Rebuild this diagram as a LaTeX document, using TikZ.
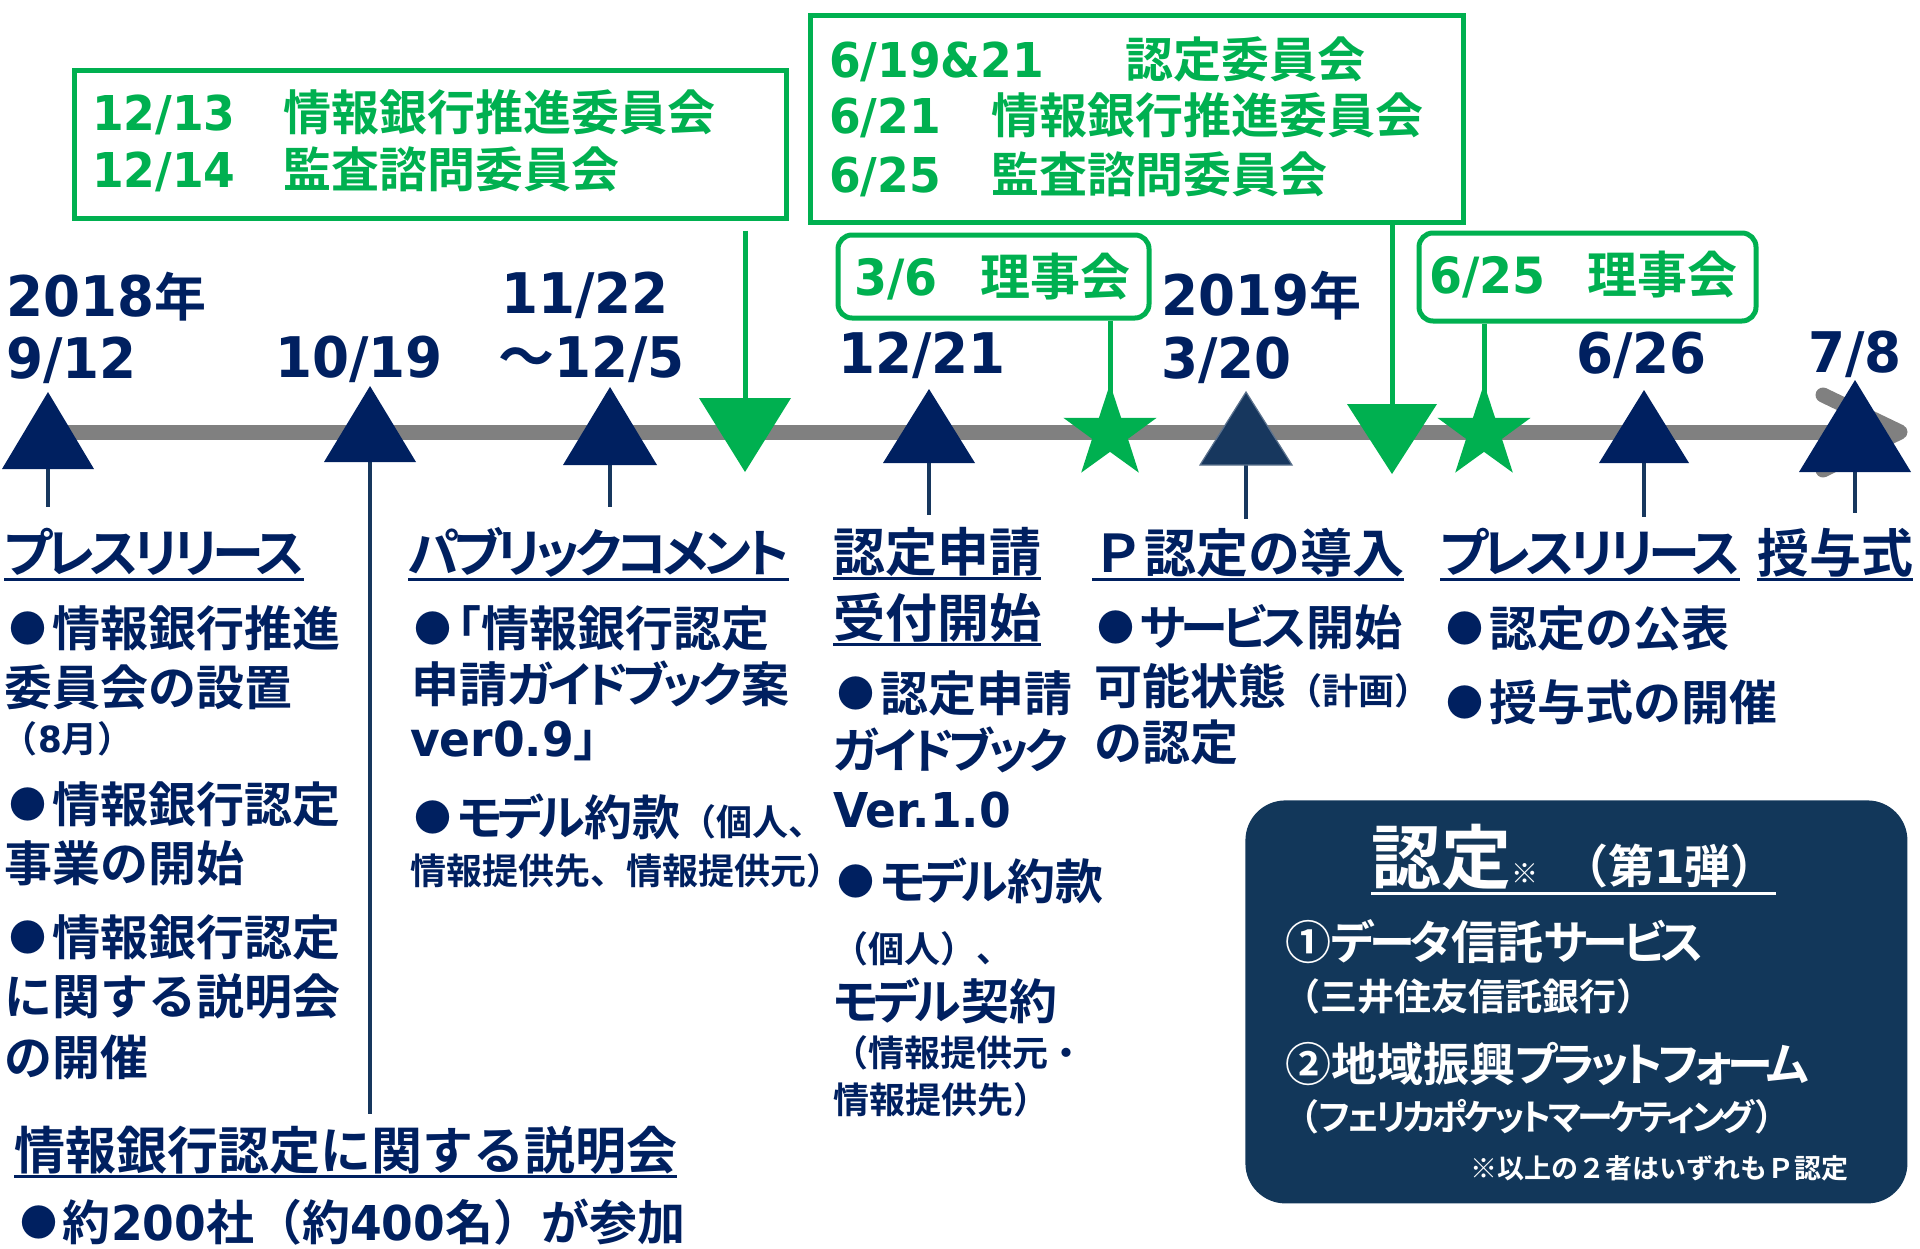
\documentclass[tikz,border=0pt]{standalone}
\usepackage{fontspec}
\setmainfont{Noto Sans CJK JP Bold}
\newfontfamily\kp{Noto Sans CJK JP Bold}[RawFeature=+palt, LetterSpace=-10]
\newfontfamily\dv{DejaVu Sans Bold}[FakeStretch=0.95]
\newcommand{\bul}{\makebox[24pt]{\raisebox{2pt}{\fontsize{18.5}{20}\selectfont ●}}}
\usetikzlibrary{shapes.geometric}
\definecolor{navy}{HTML}{002060}
\definecolor{gr}{HTML}{00B050}
\definecolor{slate}{HTML}{12375A}
\definecolor{slatetri}{HTML}{17375E}
\definecolor{barg}{HTML}{808080}
\tikzset{
 tx/.style={anchor=base west, inner sep=0pt, outer sep=0pt, text=navy},
 dt/.style={tx, font=\fontsize{28}{32}\selectfont},
 hd/.style={tx, font=\fontsize{26}{30}\selectfont},
 bl/.style={tx, font=\fontsize{24}{28}\selectfont},
 sm/.style={tx, font=\fontsize{18}{21}\selectfont},
 gtx/.style={tx, text=gr, font=\fontsize{24}{28}\selectfont},
 gtxb/.style={tx, text=gr, font=\fontsize{25}{28}\selectfont},
 gbox/.style={draw=gr, line width=2.5pt, inner sep=0pt, anchor=north west},
 gline/.style={draw=gr, line width=2.5pt},
 ulst/.style={draw=navy, line width=1.5pt},
 stemst/.style={draw=slatetri, line width=2pt},
 tlbar/.style={draw=barg, line width=7.5pt},
 gstar/.style={star, star points=5, star point ratio=2.6, fill=gr, inner sep=0pt, minimum size=49pt},
}
\begin{document}
\begin{tikzpicture}[x=0.5pt,y=-0.5pt]
\useasboundingbox (0,0) rectangle (1920,1248);

% timeline bar
\coordinate (barL) at (48,432);
\coordinate (barR) at (1900,432);
\coordinate (arU) at (1823,395);
\coordinate (arD) at (1823,470);
\draw[tlbar] (barL) -- (barR);
\draw[tlbar, line cap=round, line join=round] (arU) -- (barR) -- (arD);

% green boxes
\node[gbox, minimum width=356pt, minimum height=74pt] (A) at (71.5,67.5) {};
\node[gbox, minimum width=326.5pt, minimum height=103.5pt] (B) at (807.5,12.5) {};
\node[gbox, rounded corners=7pt, minimum width=155.5pt, minimum height=41.5pt] (C) at (835.5,232.5) {};
\node[gbox, rounded corners=7pt, minimum width=168.5pt, minimum height=44pt] (D) at (1416.5,230.5) {};

\node[gtx] (a1) at (92,130) {\makebox[95.5pt][l]{\dv 12/13}情報銀行推進委員会};
\node[gtx] (a2) at (92,187) {\makebox[95.5pt][l]{\dv 12/14}監査諮問委員会};
\node[gtx] (b1) at (829,77) {\makebox[148pt][l]{\dv 6/19\&21}認定委員会};
\node[gtx] (b2) at (829,133) {\makebox[81pt][l]{\dv 6/21}情報銀行推進委員会};
\node[gtx] (b3) at (829,192) {\makebox[81pt][l]{\dv 6/25}監査諮問委員会};
\node[gtxb] (c1) at (854,295) {\makebox[63pt][l]{\dv 3/6}理事会};
\node[gtxb] (c2) at (1429,293) {\makebox[79pt][l]{\dv 6/25}理事会};

% green arrows
\coordinate (gA) at (745,398);
\coordinate (gB) at (1392,404);
\draw[gline, shorten <=5pt] (A.south -| gA) -- (gA);
\fill[gr] (gA) ++(-46,0) -- ++(92,0) -- ++(-46,74) -- cycle;
\draw[gline] (B.south -| gB) -- (gB);
\fill[gr] (gB) ++(-45,0) -- ++(90,0) -- ++(-45,70) -- cycle;

% stars
\node[gstar] (s1) at (1110,433) {};
\node[gstar] (s2) at (1484,433) {};
\draw[gline] (C.south -| s1) -- (s1.center);
\draw[gline] (D.south -| s2) -- (s2.center);

% navy triangles and stems
\coordinate (n1) at (48,469);   \coordinate (e1) at (48,507);
\coordinate (n2) at (370,462);  \coordinate (e2) at (370,1114);
\coordinate (n3) at (610,465);  \coordinate (e3) at (610,507);
\coordinate (n4) at (929,463);  \coordinate (e4) at (929,515);
\coordinate (n5) at (1246,465); \coordinate (e5) at (1246,519);
\coordinate (n6) at (1644,463); \coordinate (e6) at (1644,517);
\coordinate (n7) at (1855,472); \coordinate (e7) at (1855,513);
\draw[stemst] (n1) -- (e1);
\draw[stemst] (n2) -- (e2);
\draw[stemst] (n3) -- (e3);
\draw[stemst] (n4) -- (e4);
\draw[stemst] (n5) -- (e5);
\draw[stemst] (n6) -- (e6);
\draw[stemst] (n7) -- (e7);
\fill[navy] (n1) ++(-46,0) -- ++(92,0) -- ++(-46,-77) -- cycle;
\fill[navy] (n2) ++(-46,0) -- ++(92,0) -- ++(-46,-76) -- cycle;
\fill[navy] (n3) ++(-47,0) -- ++(94,0) -- ++(-47,-78) -- cycle;
\fill[navy] (n4) ++(-46,0) -- ++(92,0) -- ++(-46,-74) -- cycle;
\filldraw[fill=slatetri, draw=slatetri!70!white, line width=0.6pt] (n5) ++(-46,0) -- ++(92,0) -- ++(-46,-73) -- cycle;
\fill[navy] (n6) ++(-45,0) -- ++(90,0) -- ++(-45,-73) -- cycle;
\fill[navy] (n7) ++(-56,0) -- ++(112,0) -- ++(-56,-92) -- cycle;

% date labels
\node[dt] (d1a) at (6,316) {{\dv 2018}{\fontsize{26}{28}\selectfont 年}};
\node[dt] (d1b) at (6,378) {\dv 9/12};
\node[dt] (d2) at (275,377) {\dv 10/19};
\node[dt] (d3a) at (501,313) {\dv 11/22};
\node[dt] (d3b) at (498,377) {～{\dv 12/5}};
\node[dt] (d4) at (838,373) {\dv 12/21};
\node[dt] (d5a) at (1161,315) {{\dv 2019}{\fontsize{26}{28}\selectfont 年}};
\node[dt] (d5b) at (1161,378) {\dv 3/20};
\node[dt] (d6) at (1576,373) {\dv 6/26};
\node[dt] (d7) at (1808,372) {\dv 7/8};

% column 1
\node[hd] (h1) at (4,572) {\kp プレスリリース};
\node[bl] (p1a) at (4,646) {\bul 情報銀行推進};
\node[bl] (p1b) at (4,705) {委員会の設置};
\node[sm] (p1c) at (2,752) {（{\dv 8}月）};
\node[bl] (p1d) at (4,822) {\bul 情報銀行認定};
\node[bl] (p1e) at (4,881) {事業の開始};
\node[bl] (p1f) at (4,955) {\bul 情報銀行認定};
\node[bl] (p1g) at (4,1014) {に関する説明会};
\node[bl] (p1h) at (4,1075) {の開催};
\node[hd, font=\fontsize{25.5}{30}\selectfont] (h7) at (14,1169) {情報銀行認定に関する説明会};
\node[bl] (p7a) at (15,1240) {\bul 約{\dv 200}社（約{\dv 400}名）が参加};

% column 2
\node[hd] (h2) at (408,572) {\kp パブリックコメント};
\node[bl] (p2a) at (409,646) {\bul{\kp 「}情報銀行認定};
\node[bl] (p2b) at (411,702) {申請{\kp ガイドブック}案};
\node[bl] (p2c) at (410,756) {{\dv ver0.9}」};
\node[bl] (p2d) at (409,835) {\bul{\kp モデル}約款{\fontsize{18}{21}\selectfont （個人、}};
\node[sm] (p2e) at (410,884) {情報提供先、情報提供元）};

% column 3
\node[hd] (h3a) at (833,571) {認定申請};
\node[hd] (h3b) at (833,637) {受付開始};
\node[bl] (p3a) at (832,711) {\bul 認定申請};
\node[bl] (p3b) at (833,768) {\kp ガイドブック};
\node[bl] (p3c) at (833,827) {\dv Ver.1.0};
\node[bl] (p3d) at (832,899) {\bul{\kp モデル}約款};
\node[sm] (p3e) at (832,962) {（個人）、};
\node[bl] (p3f) at (833,1019) {{\kp モデル}契約};
\node[sm] (p3g) at (832,1066) {（情報提供元・};
\node[sm] (p3h) at (833,1113) {情報提供先）};

% column 4
\node[hd] (h4) at (1092,572) {Ｐ認定の導入};
\node[bl] (p4a) at (1092,645) {\bul{\kp サービス}開始};
\node[bl] (p4b) at (1094,704) {可能状態{\fontsize{18}{21}\selectfont （計画）}};
\node[bl] (p4c) at (1094,760) {の認定};

% column 5
\node[hd] (h5) at (1440,572) {\kp プレスリリース};
\node[bl] (p5a) at (1441,646) {\bul 認定の公表};
\node[bl] (p5b) at (1441,720) {\bul 授与式の開催};

% column 6
\node[hd] (h6) at (1757,572) {授与式};

% underlines
\foreach \h in {h1,h2,h3a,h3b,h4,h5,h6,h7}
  \draw[ulst] ([yshift=-3.5pt]\h.base west) -- ([yshift=-3.5pt]\h.base east);

% dark box
\node[fill=slate, rounded corners=20pt, minimum width=331pt, minimum height=201.5pt, anchor=north west, inner sep=0pt] (E) at (1245,800) {};
\node[tx, text=white] (et) at (1371,883) {{\fontsize{35}{40}\selectfont 認定}{\fontsize{13.5}{15}\selectfont ※}\hspace{12pt}{\fontsize{23}{26}\selectfont （第{\dv 1}弾）}};
\draw[draw=white, line width=1.5pt] ([yshift=-5pt]et.base west) -- ([yshift=-5pt]et.base east);
\node[tx, text=white, font=\fontsize{23}{26}\selectfont] (e1t) at (1285,959) {①{\kp データ}信託{\kp サービス}};
\node[tx, text=white, font=\fontsize{18.5}{21}\selectfont] (e2t) at (1283,1010) {（三井住友信託銀行）};
\node[tx, text=white, font=\fontsize{23}{26}\selectfont] (e3t) at (1285,1081) {②地域振興{\kp プラットフォーム}};
\node[tx, text=white, font=\fontsize{18}{21}\selectfont] (e4t) at (1283,1130) {（{\kp フェリカポケットマーケティング}）};
\node[tx, text=white, font=\fontsize{13.5}{16}\selectfont] (e5t) at (1470,1178) {※以上の２者はいずれもＰ認定};
\end{tikzpicture}
\end{document}
